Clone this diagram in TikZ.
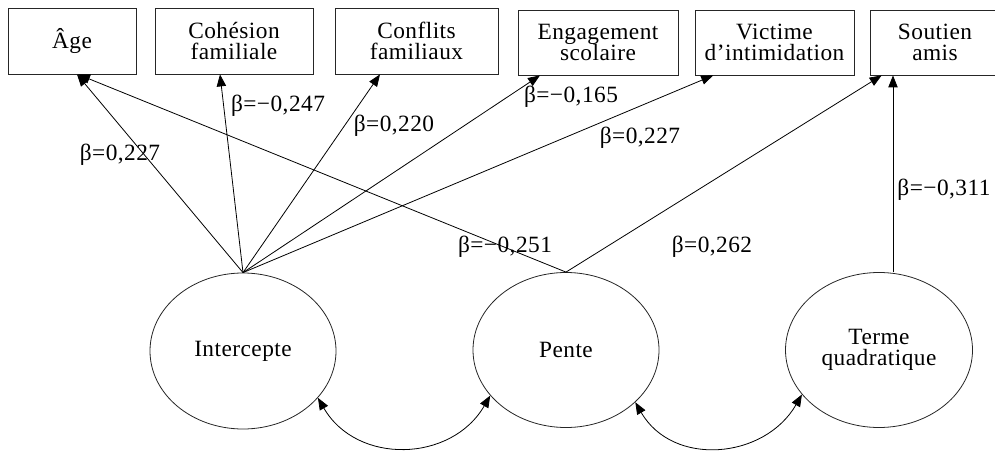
\documentclass[tikz,border=0pt]{standalone}
\usepackage{fontspec}
\setmainfont{Liberation Serif}[LetterSpace=2]
\usetikzlibrary{arrows.meta,shapes.geometric}
\begin{document}
\begin{tikzpicture}[x=0.75pt,y=-0.75pt,
  every node/.style={font=\fontsize{17.5}{16}\selectfont, inner sep=0pt},
  box/.style={draw=black!85, line width=0.6pt, rectangle, align=center},
  latent/.style={draw=black!85, line width=0.6pt, ellipse, align=center},
  arr/.style={line width=0.6pt, -{Triangle[length=9pt,width=7pt]}},
  darr/.style={line width=0.6pt, {Triangle[length=9pt,width=7pt]}-{Triangle[length=9pt,width=7pt]}},
  coef/.style={}
]
\useasboundingbox (0,0) rectangle (995,452);
\begin{scope}
\clip (0,0) rectangle (995,452);
% observed variables
\node[box, minimum width={128*0.75pt}, minimum height={66*0.75pt}] (age) at (72,41) {Âge};
\node[box, minimum width={158*0.75pt}, minimum height={66*0.75pt}] (coh) at (234,41) {Cohésion\\familiale};
\node[box, minimum width={163*0.75pt}, minimum height={66*0.75pt}] (conf) at (416.5,41) {Conflits\\familiaux};
\node[box, minimum width={160*0.75pt}, minimum height={65*0.75pt}] (eng) at (598,42.5) {Engagement\\scolaire};
\node[box, minimum width={159*0.75pt}, minimum height={65*0.75pt}] (vic) at (774.5,42.5) {Victime\\d’intimidation};
\node[box, minimum width={130*0.75pt}, minimum height={65*0.75pt}] (sou) at (935,42.5) {Soutien\\amis};
\end{scope}
% latent variables
\node[latent, minimum width={186*0.75pt}, minimum height={156*0.75pt}] (I) at (243,351) {Intercepte};
\node[latent, minimum width={186*0.75pt}, minimum height={155*0.75pt}] (P) at (566,350) {Pente};
\node[latent, minimum width={187*0.75pt}, minimum height={155*0.75pt}] (T) at (879,350) {Terme\\quadratique};
% paths
\draw[arr] (I.north) -- ([xshift=3.75pt]age.south);
\draw[arr] (I.north) -- ([xshift=-10.5pt]coh.south);
\draw[arr] (I.north) -- ([xshift=-27.4pt]conf.south);
\draw[arr] (I.north) -- ([xshift=-43.5pt]eng.south);
\draw[arr] (I.north) -- ([xshift=-46pt]vic.south);
\draw[arr] (P.north) -- ([xshift=4.5pt]age.south);
\draw[arr] (P.north) -- ([xshift=-40pt]sou.south);
\draw[arr] ([xshift=10.5pt]T.north) -- ([xshift=-31.5pt]sou.south);
% covariances
\draw[darr] (I.-32) to[out=-60,in=-120,looseness=1.15] (P.211);
\draw[darr] (P.-37) to[out=-60,in=-120,looseness=1.15] (T.210);
% coefficients
\node[coef] (c1) at (120,155) {β=0,227};
\node[coef] (c2) at (278,106) {β=−0,247};
\node[coef] (c3) at (394,126) {β=0,220};
\node[coef] (c4) at (571,97) {β=−0,165};
\node[coef] (c5) at (640,138) {β=0,227};
\node[coef] (c6) at (505,247) {β=−0,251};
\node[coef] (c7) at (712,247) {β=0,262};
\node[coef] (c8) at (944,190) {β=−0,311};
\end{tikzpicture}
\end{document}
